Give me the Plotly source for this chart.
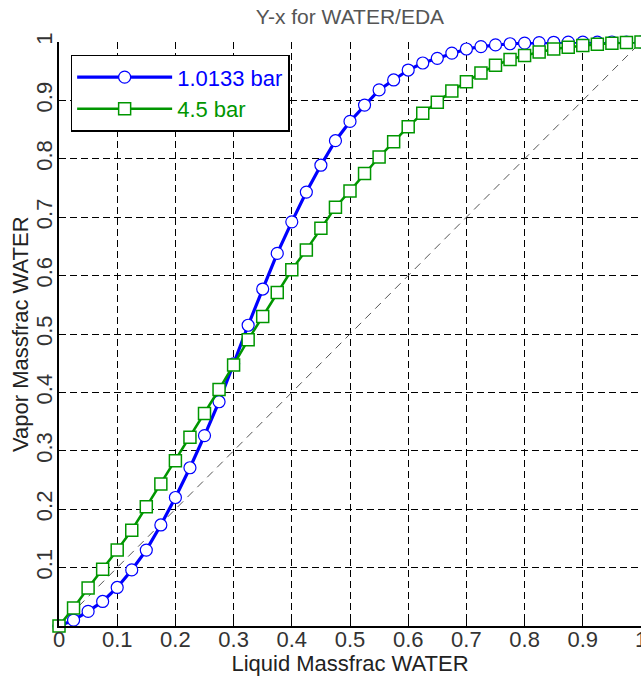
import plotly.graph_objects as go

# Liquid mass fraction of WATER (x)
x_liquid = [0.0, 0.025, 0.05, 0.075, 0.1, 0.125, 0.15, 0.175, 0.2, 0.225,
            0.25, 0.275, 0.3, 0.325, 0.35, 0.375, 0.4, 0.425, 0.45, 0.475,
            0.5, 0.525, 0.55, 0.575, 0.6, 0.625, 0.65, 0.675, 0.7, 0.725,
            0.75, 0.775, 0.8, 0.825, 0.85, 0.875, 0.9, 0.925, 0.95, 0.975, 1.0]

# Vapor mass fraction of WATER at 1.0133 bar
y_1bar = [0.0, 0.010, 0.025, 0.042, 0.066, 0.096, 0.130, 0.173, 0.220, 0.271,
          0.326, 0.384, 0.449, 0.515, 0.577, 0.638, 0.692, 0.743, 0.789, 0.831,
          0.864, 0.892, 0.918, 0.935, 0.952, 0.964, 0.972, 0.981, 0.988, 0.992,
          0.995, 0.997, 0.998, 0.999, 0.9995, 0.9997, 0.9998, 0.9999, 1.0, 1.0, 1.0]

# Vapor mass fraction of WATER at 4.5 bar
y_45bar = [0.0, 0.031, 0.065, 0.097, 0.130, 0.164, 0.204, 0.243, 0.283, 0.323,
           0.364, 0.405, 0.447, 0.490, 0.530, 0.571, 0.610, 0.644, 0.681, 0.717,
           0.745, 0.775, 0.803, 0.829, 0.855, 0.878, 0.897, 0.916, 0.932, 0.947,
           0.960, 0.970, 0.977, 0.983, 0.988, 0.991, 0.994, 0.996, 0.998, 0.999, 1.0]

diag = [0.0, 1.0]

x_ticks = [0, 0.1, 0.2, 0.3, 0.4, 0.5, 0.6, 0.7, 0.8, 0.9, 1]
x_tick_text = ["0", "0.1", "0.2", "0.3", "0.4", "0.5", "0.6", "0.7", "0.8", "0.9", "1"]
y_ticks = [0.1, 0.2, 0.3, 0.4, 0.5, 0.6, 0.7, 0.8, 0.9, 1]
y_tick_text = ["0.1", "0.2", "0.3", "0.4", "0.5", "0.6", "0.7", "0.8", "0.9", "1"]

BLUE = "#0000FF"
GREEN = "#009600"
FONT = "Liberation Sans, Arial, sans-serif"

fig = go.Figure()

fig.add_trace(go.Scatter(
    x=diag, y=diag, mode="lines",
    line=dict(color="#555555", width=1, dash="8px,6px"),
    showlegend=False, hoverinfo="skip"))

fig.add_trace(go.Scatter(
    x=x_liquid, y=y_1bar, mode="lines+markers",
    name='<span style="color:#0000FF">1.0133 bar</span>',
    line=dict(color=BLUE, width=3.2),
    marker=dict(symbol="circle", size=12, color="white",
                line=dict(color=BLUE, width=1.2)),
    cliponaxis=False))

fig.add_trace(go.Scatter(
    x=x_liquid, y=y_45bar, mode="lines+markers",
    name='<span style="color:#009600">4.5 bar</span>',
    line=dict(color=GREEN, width=2.5),
    marker=dict(symbol="square", size=12, color="white",
                line=dict(color=GREEN, width=1.5)),
    cliponaxis=False))

fig.update_layout(
    width=641, height=676,
    margin=dict(l=59, r=0, t=42, b=50, autoexpand=False),
    paper_bgcolor="white", plot_bgcolor="white",
    font=dict(family=FONT, size=22, color="#333333"),
    title=dict(text="Y-x for WATER/EDA", x=0.5, xref="paper",
               y=0.975, yanchor="middle",
               font=dict(family=FONT, size=21, color="#555555")),
    showlegend=True,
    legend=dict(x=0.02, y=0.978, xanchor="left", yanchor="top",
                bgcolor="white", bordercolor="black", borderwidth=1.5,
                itemwidth=95,
                font=dict(family=FONT, size=22)),
    annotations=[dict(
        text="Vapor Massfrac WATER", xref="paper", yref="paper",
        x=-0.067, y=0.5, xanchor="center", yanchor="middle",
        textangle=-90, showarrow=False,
        font=dict(family=FONT, size=22, color="#222222"))],
)

fig.update_xaxes(
    range=[0, 1], tickvals=x_ticks, ticktext=x_tick_text,
    automargin=False, ticklabeloverflow="allow",
    showline=True, linecolor="black", linewidth=1.5,
    ticks="inside", ticklen=5, tickcolor="black",
    ticklabelstandoff=-7,
    showgrid=True, gridcolor="black", gridwidth=1, griddash="7px,4px",
    zeroline=False,
    title=dict(text="Liquid Massfrac WATER", standoff=0,
               font=dict(family=FONT, size=22, color="#222222")),
    tickfont=dict(family=FONT, size=22, color="#333333"),
)

fig.update_yaxes(
    range=[0, 1], tickvals=y_ticks, ticktext=y_tick_text, tickangle=-90,
    automargin=False,
    showline=True, linecolor="black", linewidth=1.5,
    ticks="inside", ticklen=5, tickcolor="black",
    ticklabelstandoff=-4,
    showgrid=True, gridcolor="black", gridwidth=1, griddash="7px,4px",
    zeroline=False,
    tickfont=dict(family=FONT, size=22, color="#333333"),
)

fig.write_html("out.html",
               config={"displayModeBar": False},
               post_script="document.body.style.margin='0';document.body.style.overflow='hidden';")
